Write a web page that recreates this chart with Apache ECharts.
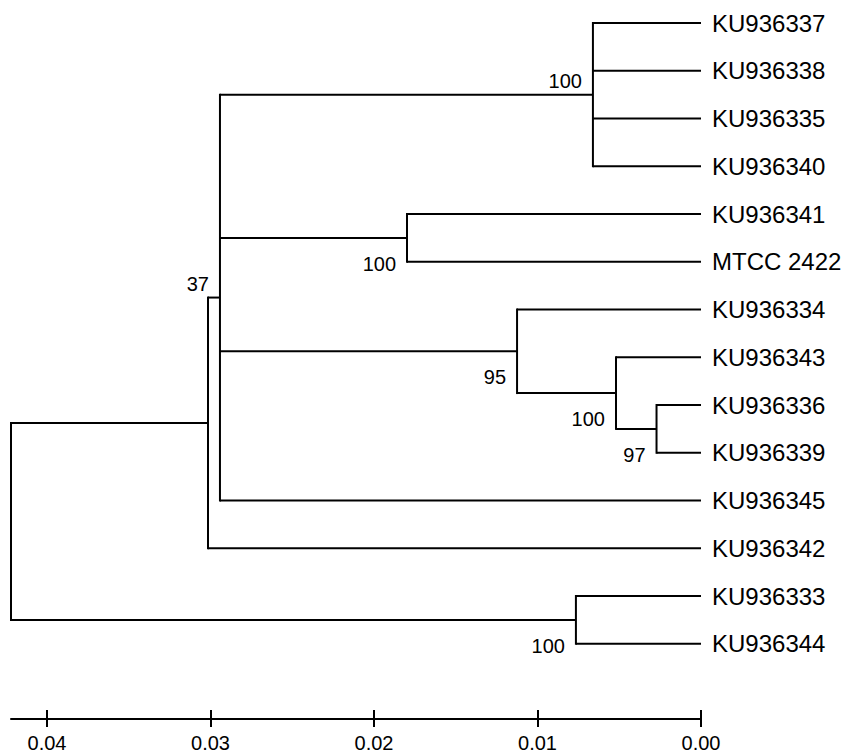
<!DOCTYPE html>
<html><head><meta charset="utf-8">
<script src="https://cdn.jsdelivr.net/npm/echarts@6/dist/echarts.min.js"></script>
<style>html,body{margin:0;padding:0;background:#fff}#c{width:849px;height:754px}</style>
</head><body><div id="c"></div>
<script>
// ---- data ----
const taxa = ['KU936337','KU936338','KU936335','KU936340','KU936341','MTCC 2422','KU936334','KU936343','KU936336','KU936339','KU936345','KU936342','KU936333','KU936344'];
// internal nodes, listed children-before-parents
const nodeIds = ['n1','n2','n3','n4','n5','n6','n7','n8','root'];
const nodeHeights = [0.00661, 0.01798, 0.00272, 0.00520, 0.01125, 0.02942, 0.03015, 0.00765, 0.04220];
const nodeChildren = [
  ['KU936337','KU936338','KU936335','KU936340'],
  ['KU936341','MTCC 2422'],
  ['KU936336','KU936339'],
  ['KU936343','n3'],
  ['KU936334','n4'],
  ['n1','n2','n5','KU936345'],
  ['n6','KU936342'],
  ['KU936333','KU936344'],
  ['n7','n8']
];
const nodeSupport = [100, 100, 97, 100, 95, 37, null, 100, null];
const scaleTicks = [0, 0.01, 0.02, 0.03, 0.04];

// ---- style config ----
const FONT = 'Liberation Sans, Arial, Helvetica, sans-serif';
const LW = 2;
const labelAbove = ['n1','n6'];

// ---- layout (y = midpoint of first and last child) ----
const yOf = {}, hOf = {};
taxa.forEach((t,i)=>{ yOf[t]=i; hOf[t]=0; });
nodeIds.forEach((id,i)=>{
  const ch = nodeChildren[i];
  hOf[id] = nodeHeights[i];
  yOf[id] = (yOf[ch[0]] + yOf[ch[ch.length-1]]) / 2;
});
const rootH = hOf['root'];

const supportData = [];
nodeIds.forEach((id,i)=>{
  if (nodeSupport[i] != null) {
    supportData.push({
      value:[hOf[id], yOf[id]],
      name:String(nodeSupport[i]),
      label:{show:true, color:'#000', offset:[0, labelAbove.includes(id)?-14:26]}
    });
  }
});

const chart = echarts.init(document.getElementById('c'), null, {renderer:'svg'});
const option = {
  animation:false,
  backgroundColor:'#fff',
  grid:[
    {left:11, right:148, top:23, height:620.75},
    {left:11, right:148, top:710, height:9},
    {left:47, right:148, top:710, height:17}
  ],
  xAxis:[
    {gridIndex:0, type:'value', min:0, max:rootH, inverse:true, show:false},
    {gridIndex:1, type:'value', min:0, max:rootH, inverse:true, position:'bottom',
      axisLine:{show:true, lineStyle:{color:'#000', width:2}}, axisTick:{show:false}, axisLabel:{show:false}, splitLine:{show:false}},
    {gridIndex:2, type:'value', min:scaleTicks[0], max:scaleTicks[scaleTicks.length-1], interval:0.01, inverse:true, position:'bottom',
      axisLine:{show:false}, axisTick:{show:false},
      splitLine:{show:true, lineStyle:{color:'#000', width:2}},
      axisLabel:{show:true, margin:6, color:'#000', fontSize:20, fontFamily:FONT, formatter:v=>v.toFixed(2)}}
  ],
  yAxis:[
    {gridIndex:0, type:'value', min:0, max:taxa.length-1, inverse:true, show:false},
    {gridIndex:0, type:'category', data:taxa, inverse:true, boundaryGap:false, position:'right',
      axisLine:{show:false}, axisTick:{show:false}, splitLine:{show:false},
      axisLabel:{show:true, margin:11, color:'#000', fontSize:24, fontFamily:FONT, interval:0}},
    {gridIndex:1, type:'value', min:0, max:1, show:false},
    {gridIndex:2, type:'value', min:0, max:1, show:false}
  ],
  series:[
    {
      type:'custom', xAxisIndex:0, yAxisIndex:0, clip:false, silent:true,
      data: nodeIds.map(id=>[hOf[id], yOf[id]]),
      renderItem:(params, api)=>{
        const i = params.dataIndex, id = nodeIds[i], ch = nodeChildren[i];
        const t = api.coord([hOf[id], yOf[ch[0]]]);
        const b = api.coord([hOf[id], yOf[ch[ch.length-1]]]);
        const kids = [{type:'line', shape:{x1:t[0],y1:t[1],x2:b[0],y2:b[1]}, style:{stroke:'#000', lineWidth:LW, lineCap:'square'}}];
        ch.forEach(c=>{
          const a = api.coord([hOf[id], yOf[c]]);
          const e = api.coord([hOf[c], yOf[c]]);
          kids.push({type:'line', shape:{x1:a[0],y1:a[1],x2:e[0],y2:e[1]}, style:{stroke:'#000', lineWidth:LW}});
        });
        return {type:'group', children:kids};
      }
    },
    {
      type:'scatter', xAxisIndex:0, yAxisIndex:0, symbolSize:0, silent:true,
      itemStyle:{opacity:1},
      data: supportData,
      label:{show:true, position:'left', distance:11, color:'#000', opacity:1, fontSize:20, fontFamily:FONT,
        formatter:p=>p.name}
    }
  ]
};
chart.setOption(option);
</script>
</body></html>
